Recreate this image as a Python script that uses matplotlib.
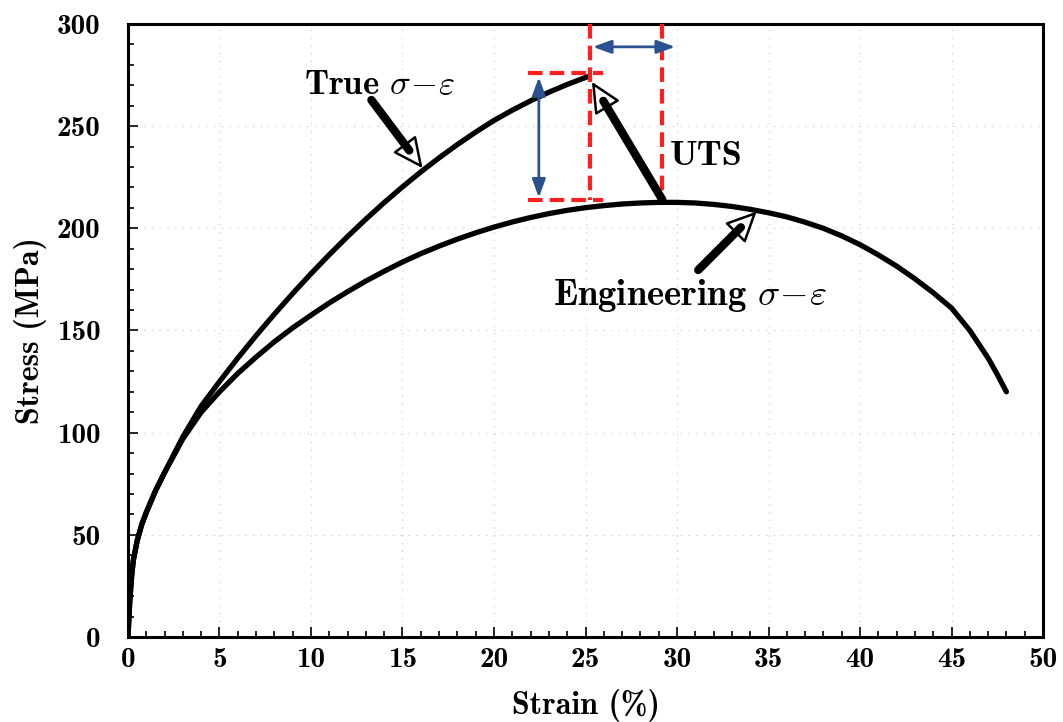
import matplotlib
matplotlib.use("Agg")
import matplotlib.pyplot as plt
from matplotlib.ticker import MultipleLocator

# engineering stress-strain curve (strain %, stress MPa)
eng_strain = [0, 0.1, 0.2, 0.3, 0.5, 0.75, 1, 1.5, 2, 3, 4, 5, 6, 7, 8, 9, 10,
              11, 12, 13, 14, 15, 16, 17, 18, 19, 20, 21, 22, 23, 24, 25, 26,
              27, 28, 29, 30, 31, 32, 33, 34, 35, 36, 37, 38, 39, 40, 41, 42,
              43, 44, 45, 46, 47, 47.5, 48]
eng_stress = [0, 18, 30, 38, 47, 55, 61, 71.5, 80.5, 97, 110, 120, 129, 137,
              144.5, 151.3, 157.5, 163.5, 169, 174.2, 179, 183.5, 187.6, 191.3,
              194.7, 197.8, 200.6, 203.1, 205.3, 207.2, 208.8, 210.1, 211.1,
              211.9, 212.4, 212.7, 212.7, 212.4, 211.7, 210.7, 209.3, 207.6,
              205.6, 203, 200, 196.3, 192, 187, 181.5, 175.3, 168.5, 161,
              150, 136.5, 128.5, 120]

# true stress-strain curve
true_strain = [0, 0.1, 0.2, 0.3, 0.5, 0.75, 1, 1.5, 2, 3, 4, 5, 6, 7, 8, 9, 10,
               11, 12, 13, 14, 15, 16, 17, 18, 19, 20, 21, 22, 23, 24, 25, 25.2]
true_stress = [0, 18, 30, 38, 47, 55, 61, 71.5, 80.5, 98, 113, 125, 136.5,
               147.5, 158, 168.1, 177.8, 187.1, 196, 204.5, 212.6, 220.3,
               227.6, 234.5, 241, 247.1, 252.8, 257.8, 262.4, 266.6, 270.4,
               273.8, 274.4]

xticks = [0, 5, 10, 15, 20, 25, 30, 35, 40, 45, 50]
yticks = [0, 50, 100, 150, 200, 250, 300]

plt.rcParams['mathtext.fontset'] = 'cm'
plt.rcParams['axes.unicode_minus'] = False
font = 'cmb10'

fig = plt.figure(figsize=(10.63, 7.22), dpi=100)
ax = fig.add_axes([0.1204, 0.1177, 0.8608, 0.8491])

ax.plot(eng_strain, eng_stress, color='black', lw=3.8, solid_capstyle='round', zorder=3)
ax.plot(true_strain, true_stress, color='black', lw=3.8, solid_capstyle='round', zorder=3)

ax.set_xlim(0, 50)
ax.set_ylim(0, 300)
ax.set_xticks(xticks)
ax.set_yticks(yticks)
ax.xaxis.set_minor_locator(MultipleLocator(1))
ax.yaxis.set_minor_locator(MultipleLocator(10))
ax.tick_params(which='both', direction='in', top=False, right=False, width=1.2)
ax.tick_params(which='major', length=7, labelsize=21)
ax.tick_params(which='minor', length=4)
ax.tick_params(axis='x', which='major', pad=7)
ax.tick_params(axis='y', which='major', pad=20)
for lab in ax.get_xticklabels() + ax.get_yticklabels():
    lab.set_fontfamily(font)
for s in ax.spines.values():
    s.set_linewidth(2.2)
ax.grid(True, which='major', linestyle=(0, (1, 6)), color='#c8c8c8', lw=0.8)

ax.set_xlabel('Strain (%)', fontfamily=font, fontsize=23, labelpad=12)
ax.set_ylabel('Stress (MPa)', fontfamily=font, fontsize=23, labelpad=7)

# red dashed guides around UTS
red = '#ff1f1f'
dash = (0, (3.5, 1.7))
ax.plot([21.85, 25.95], [276, 276], color=red, lw=3, ls=dash, zorder=4)
ax.plot([21.85, 25.95], [214, 214], color=red, lw=3, ls=dash, zorder=4)
ax.plot([25.24, 25.24], [300, 214], color=red, lw=3, ls=dash, zorder=4)
ax.plot([29.2, 29.2], [300, 214], color=red, lw=3, ls=dash, zorder=4)

# blue double arrows
blue = '#2b5190'
blue_style = '<|-|>,head_length=0.55,head_width=0.2'
ax.annotate('', xy=(22.45, 215), xytext=(22.45, 274),
            arrowprops=dict(arrowstyle=blue_style, color=blue, lw=2,
                            mutation_scale=20, shrinkA=0, shrinkB=0), zorder=5)
ax.annotate('', xy=(25.4, 288.8), xytext=(29.9, 288.8),
            arrowprops=dict(arrowstyle=blue_style, color=blue, lw=2,
                            mutation_scale=20, shrinkA=0, shrinkB=0), zorder=5)


def hollow_arrow(tail, tip):
    # thin outlined head, then thick shaft that stops at the head base
    ax.annotate('', xy=tip, xytext=tail,
                arrowprops=dict(arrowstyle='-|>,head_length=0.95,head_width=0.45',
                                mutation_scale=20, lw=1.8, ec='black', fc='white',
                                shrinkA=0, shrinkB=0), zorder=6)
    ax.annotate('', xy=tip, xytext=tail,
                arrowprops=dict(arrowstyle='-', lw=6, color='black',
                                shrinkA=0, shrinkB=16), zorder=7)


hollow_arrow((29.2, 214), (25.35, 271.7))
hollow_arrow((13.3, 262.8), (16.1, 229.4))
hollow_arrow((31.16, 179.6), (34.35, 208.2))

ax.text(9.6, 270, r'True $\sigma\!-\!\varepsilon$', fontfamily=font, fontsize=25,
        va='center', ha='left')
ax.text(29.6, 235, 'UTS', fontfamily=font, fontsize=26, va='center', ha='left')
ax.text(23.2, 167, r'Engineering $\sigma\!-\!\varepsilon$', fontfamily=font,
        fontsize=26.5, va='center', ha='left')

fig.savefig('out.png', dpi=100)
